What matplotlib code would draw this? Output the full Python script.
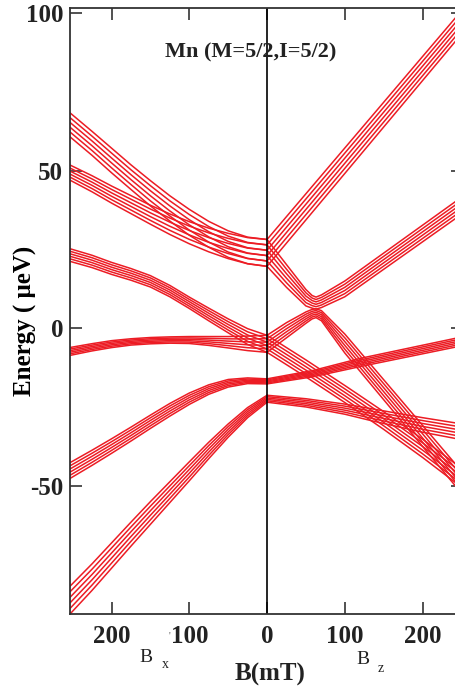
import matplotlib
matplotlib.use("Agg")
import matplotlib.pyplot as plt
import numpy as np

# Mn level scheme: six hyperfine bundles (six lines each) per field direction.
# Transverse field Bx is drawn on the left half (negative abscissa), Bz on the right.

# ---- Bx half: sampled field (mT) with bundle centre / half-width (ueV)
bx_field = [-253, -225, -200, -175, -150, -125, -100, -75, -50, -25, 0]

bx_a_center = [64.4, 58.6, 53.2, 47.9, 42.8, 38.0, 33.6, 29.8, 26.7, 24.7, 23.9]
bx_a_half = [3.8, 3.8, 3.9, 3.9, 4.0, 4.0, 4.1, 4.1, 4.2, 4.2, 4.25]

bx_b_center = [49.3, 45.8, 42.4, 39.2, 36.0, 33.0, 30.3, 28.0, 26.1, 24.6, 23.9]
bx_b_half = [2.4, 2.55, 2.7, 2.85, 3.0, 3.25, 3.5, 3.75, 4.0, 4.15, 4.25]

bx_c_center = [23.2, 21.2, 19.0, 17.1, 14.9, 11.8, 8.1, 4.4, 0.8, -2.6, -4.9]
bx_c_half = [2.0, 1.95, 1.9, 1.85, 1.8, 1.8, 1.8, 2.0, 2.2, 2.5, 2.7]

bx_d_center = [-7.3, -6.0, -5.0, -4.3, -3.9, -3.7, -3.7, -4.0, -4.4, -4.75, -4.9]
bx_d_half = [1.25, 1.15, 1.1, 1.0, 1.0, 1.0, 1.1, 1.4, 1.8, 2.3, 2.7]

bx_e_center = [-45.0, -41.0, -37.3, -33.5, -29.6, -25.8, -22.3, -19.4, -17.4, -16.6, -16.8]
bx_e_half = [2.5, 2.4, 2.3, 2.2, 2.1, 2.0, 1.8, 1.5, 1.2, 0.9, 0.8]

bx_f_center = [-86.0, -78.8, -72.0, -65.2, -58.5, -51.9, -45.3, -38.7, -32.4, -26.7, -22.3]
bx_f_half = [4.4, 4.2, 4.0, 3.8, 3.6, 3.3, 3.0, 2.6, 2.1, 1.6, 1.1]

# ---- Bz half
bz_g_field = [0, 251]
bz_g_center = [23.9, 97.2]
bz_g_half = [4.25, 3.7]

# upper branch of the anticrossing near 60 mT
bz_h_field = [0, 25, 50, 58, 63, 70, 100, 251]
bz_h_center = [23.9, 16.6, 9.7, 8.4, 8.0, 8.6, 12.5, 39.0]
bz_h_half = [4.25, 3.6, 2.6, 2.0, 1.9, 2.0, 2.5, 2.7]

# lower branch of the anticrossing
bz_i_field = [0, 25, 50, 58, 63, 70, 100, 251]
bz_i_center = [-4.9, -0.6, 3.4, 4.5, 4.8, 4.0, -4.8, -49.0]
bz_i_half = [2.7, 2.4, 1.8, 1.5, 1.4, 1.6, 3.0, 3.5]

bz_j_field = [0, 60, 120, 251]
bz_j_center = [-16.8, -14.3, -10.8, -4.1]
bz_j_half = [0.8, 1.0, 1.3, 1.4]

bz_k_field = [0, 50, 100, 150, 200, 251]
bz_k_center = [-4.9, -12.7, -20.8, -29.2, -38.0, -47.5]
bz_k_half = [2.7, 2.7, 2.7, 2.8, 2.9, 3.0]

bz_l_field = [0, 50, 100, 135, 200, 251]
bz_l_center = [-22.3, -23.6, -25.6, -27.4, -30.6, -32.8]
bz_l_half = [1.1, 1.3, 1.6, 1.9, 2.3, 2.5]

x_ticks = [-200, -100, 0, 100, 200]
x_tick_labels = ["200", "100", "0", "100", "200"]
y_ticks = [-50, 0, 50, 100]
y_tick_labels = ["-50", "0", "50", "100"]

RED = "#ec1c24"
LW = 1.1
N_LINES = 6

bundles = [
    (bx_field, bx_a_center, bx_a_half),
    (bx_field, bx_b_center, bx_b_half),
    (bx_field, bx_c_center, bx_c_half),
    (bx_field, bx_d_center, bx_d_half),
    (bx_field, bx_e_center, bx_e_half),
    (bx_field, bx_f_center, bx_f_half),
    (bz_g_field, bz_g_center, bz_g_half),
    (bz_h_field, bz_h_center, bz_h_half),
    (bz_i_field, bz_i_center, bz_i_half),
    (bz_j_field, bz_j_center, bz_j_half),
    (bz_k_field, bz_k_center, bz_k_half),
    (bz_l_field, bz_l_center, bz_l_half),
]

serif = ["Liberation Serif", "DejaVu Serif"]
plt.rcParams["font.family"] = serif

W, H = 456, 693
AX_L, AX_R, AX_T, AX_B = 70, 462.6, 8.3, 614
fig = plt.figure(figsize=(W / 100, H / 100), dpi=100)
ax = fig.add_axes([AX_L / W, 1 - AX_B / H, (AX_R - AX_L) / W, (AX_B - AX_T) / H])

for field, center, half in bundles:
    f = np.asarray(field, float)
    c = np.asarray(center, float)
    h = np.asarray(half, float)
    for k in range(N_LINES):
        off = (k - (N_LINES - 1) / 2) / ((N_LINES - 1) / 2)
        ax.plot(f, c + off * h, color=RED, lw=LW, solid_joinstyle="round")

ax.axvline(0, color="black", lw=1.2)

ax.set_xlim(-253.4, 251.5)
ax.set_ylim(-90.5, 101.4)

ax.set_xticks(x_ticks)
ax.set_xticklabels(x_tick_labels)
ax.set_yticks(y_ticks)
ax.set_yticklabels(y_tick_labels)
ax.tick_params(direction="in", length=8.5, width=1.1, top=True, right=True,
               labelsize=18, colors="#222222")
ax.tick_params(axis="y", pad=5)
ax.tick_params(axis="x", pad=8)
for lab in ax.get_xticklabels() + ax.get_yticklabels():
    lab.set_fontweight("bold")
    lab.set_color("#222222")
for sp in ax.spines.values():
    sp.set_linewidth(1.3)
    sp.set_color("#333333")

ax.set_ylabel("Energy ( \u03bceV)", fontsize=18, fontweight="bold")
ax.yaxis.set_label_coords(-(AX_L - 37) / (AX_R - AX_L), (AX_B - 321) / (AX_B - AX_T))

fig.text(251 / W, 1 - 52 / H, "Mn (M=5/2,I=5/2)", ha="center", va="center",
         fontsize=16, fontweight="bold", color="#222222")
fig.text(270 / W, 1 - 674 / H, "B(mT)", ha="center", va="center",
         fontsize=18, fontweight="bold", color="#222222")
fig.text(146 / W, 1 - 657 / H, "B", ha="center", va="center", fontsize=14, color="#222222")
fig.text(165 / W, 1 - 665 / H, "x", ha="center", va="center", fontsize=10, color="#222222")
fig.text(363 / W, 1 - 660 / H, "B", ha="center", va="center", fontsize=14, color="#222222")
fig.text(381 / W, 1 - 668 / H, "z", ha="center", va="center", fontsize=10, color="#222222")
fig.text(169.5 / W, 1 - 636 / H, "'", ha="center", va="center", fontsize=7, color="#555555")

fig.savefig("out.png", dpi=100)
